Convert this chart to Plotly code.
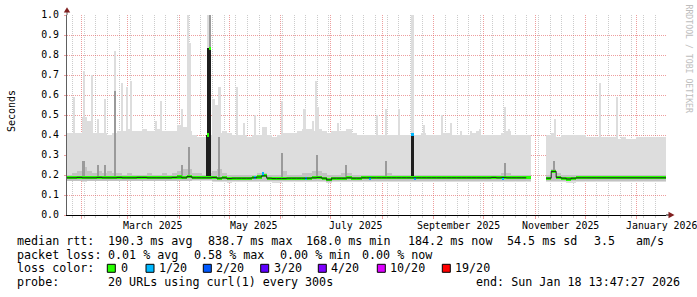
import pandas as pd
import plotly.graph_objects as go

# ---------------- data ----------------
END = pd.Timestamp("2026-01-18 13:47:27")
SPAN_DAYS = 360
STEP_DAYS = 3

# smoke band (3-day bins), seconds
smoke_max = [
    0.41, 0.41, 0.41, 0.49, 0.47, 0.41, 0.41, 0.41, 0.40, 0.41,
    0.42, 0.42, 0.43, 0.42, 0.42, 0.43, 0.42, 0.42, 0.43, 0.42,
    0.42, 0.42, 0.45, 0.44, 0.42, 0.40, 0.39, 0.39, 0.40, 0.41,
    0.41, 0.42, 0.41, 0.40, 0.40, 0.40, 0.39, 0.40, 0.40, 0.44,
    0.40, 0.39, 0.40, 0.41, 0.41, 0.41, 0.42, 0.43, 0.43, 0.42,
    0.43, 0.42, 0.41, 0.42, 0.42, 0.42, 0.43, 0.41, 0.40, 0.40,
    0.40, 0.40, 0.40, 0.40, 0.40, 0.40, 0.40, 0.40, 0.40, 0.40,
    0.40, 0.41, 0.40, 0.40, 0.40, 0.41, 0.41, 0.40, 0.40, 0.40,
    0.40, 0.41, 0.42, 0.40, 0.40, 0.40, 0.40, 0.41, 0.42, 0.40,
    0.40, 0.40, 0.40, None, None, None, 0.40, 0.41, 0.39, 0.40,
    0.40, 0.40, 0.40, 0.40, 0.39, 0.39, 0.39, 0.39, 0.39, 0.39,
    0.38, 0.39, 0.38, 0.38, 0.39, 0.39, 0.39, 0.39, 0.39, 0.39,
]
smoke_min = [
    0.168, 0.168, 0.168, 0.166, 0.168, 0.168, 0.168, 0.168, 0.168, 0.168,
    0.168, 0.168, 0.168, 0.168, 0.168, 0.168, 0.168, 0.168, 0.168, 0.168,
    0.168, 0.168, 0.168, 0.168, 0.168, 0.172, 0.172, 0.172, 0.172, 0.164,
    0.164, 0.164, 0.162, 0.164, 0.164, 0.164, 0.164, 0.164, 0.164, 0.163,
    0.163, 0.160, 0.160, 0.163, 0.163, 0.163, 0.163, 0.163, 0.165, 0.165,
    0.165, 0.165, 0.158, 0.165, 0.165, 0.165, 0.166, 0.166, 0.166, 0.166,
    0.166, 0.166, 0.166, 0.166, 0.166, 0.166, 0.166, 0.166, 0.166, 0.166,
    0.166, 0.166, 0.166, 0.166, 0.166, 0.166, 0.166, 0.166, 0.166, 0.166,
    0.166, 0.166, 0.166, 0.166, 0.166, 0.166, 0.166, 0.166, 0.166, 0.166,
    0.166, 0.166, 0.166, None, None, None, 0.165, 0.165, 0.165, 0.165,
    0.160, 0.162, 0.165, 0.165, 0.165, 0.165, 0.165, 0.165, 0.165, 0.165,
    0.165, 0.165, 0.165, 0.165, 0.165, 0.165, 0.165, 0.165, 0.165, 0.165,
]
smoke_mid_hi = [
    0.20, 0.21, 0.22, 0.24, 0.22, 0.21, 0.22, 0.21, 0.22, 0.21,
    0.21, 0.20, 0.21, 0.20, 0.20, 0.20, 0.21, 0.20, 0.20, 0.21,
    0.20, 0.21, 0.22, 0.23, 0.23, 0.21, 0.21, 0.20, 0.21, 0.22,
    0.23, 0.21, 0.20, 0.20, 0.20, 0.20, 0.20, 0.20, 0.21, 0.21,
    0.20, 0.20, 0.20, 0.22, 0.20, 0.20, 0.20, 0.21, 0.21, 0.22,
    0.22, 0.21, 0.20, 0.20, 0.20, 0.21, 0.21, 0.20, 0.20, 0.20,
    0.20, 0.20, 0.20, 0.20, 0.21, 0.20, 0.20, 0.20, 0.20, 0.20,
    0.20, 0.20, 0.20, 0.20, 0.20, 0.20, 0.20, 0.20, 0.20, 0.20,
    0.20, 0.20, 0.20, 0.20, 0.20, 0.20, 0.20, 0.21, 0.21, 0.20,
    0.20, 0.20, 0.20, None, None, None, 0.20, 0.23, 0.21, 0.20,
    0.20, 0.20, 0.20, 0.20, 0.20, 0.20, 0.20, 0.20, 0.20, 0.20,
    0.20, 0.20, 0.20, 0.20, 0.20, 0.20, 0.20, 0.20, 0.20, 0.20,
]
smoke_mid_lo = [
    0.172, 0.172, 0.172, 0.172, 0.172, 0.172, 0.172, 0.172, 0.172, 0.172,
    0.172, 0.172, 0.172, 0.172, 0.172, 0.172, 0.172, 0.172, 0.172, 0.172,
    0.172, 0.172, 0.172, 0.172, 0.172, 0.174, 0.174, 0.174, 0.174, 0.170,
    0.170, 0.170, 0.170, 0.170, 0.170, 0.170, 0.170, 0.170, 0.170, 0.170,
    0.170, 0.168, 0.168, 0.170, 0.170, 0.170, 0.170, 0.170, 0.170, 0.170,
    0.170, 0.170, 0.165, 0.170, 0.170, 0.170, 0.172, 0.172, 0.172, 0.172,
    0.172, 0.172, 0.172, 0.172, 0.172, 0.172, 0.172, 0.172, 0.172, 0.172,
    0.172, 0.172, 0.172, 0.172, 0.172, 0.172, 0.172, 0.172, 0.172, 0.172,
    0.172, 0.172, 0.172, 0.172, 0.172, 0.172, 0.172, 0.172, 0.172, 0.172,
    0.172, 0.172, 0.172, None, None, None, 0.172, 0.172, 0.172, 0.172,
    0.168, 0.170, 0.172, 0.172, 0.172, 0.172, 0.172, 0.172, 0.172, 0.172,
    0.172, 0.172, 0.172, 0.172, 0.172, 0.172, 0.172, 0.172, 0.172, 0.172,
]
median_rtt = [
    0.186, 0.186, 0.188, 0.186, 0.186, 0.186, 0.188, 0.186, 0.186, 0.186,
    0.188, 0.186, 0.186, 0.186, 0.188, 0.188, 0.186, 0.186, 0.186, 0.186,
    0.186, 0.188, 0.190, 0.186, 0.192, 0.186, 0.186, 0.186, 0.186, 0.188,
    0.184, 0.186, 0.182, 0.184, 0.184, 0.184, 0.184, 0.186, 0.190, 0.196,
    0.184, 0.182, 0.182, 0.182, 0.184, 0.184, 0.184, 0.184, 0.184, 0.186,
    0.188, 0.184, 0.176, 0.184, 0.184, 0.184, 0.186, 0.184, 0.184, 0.186,
    0.186, 0.186, 0.186, 0.186, 0.186, 0.186, 0.186, 0.186, 0.186, 0.186,
    0.186, 0.186, 0.186, 0.186, 0.186, 0.186, 0.186, 0.186, 0.186, 0.186,
    0.186, 0.186, 0.186, 0.186, 0.186, 0.188, 0.186, 0.188, 0.186, 0.186,
    0.186, 0.186, 0.186, None, None, None, 0.184, 0.218, 0.188, 0.184,
    0.180, 0.184, 0.186, 0.186, 0.186, 0.186, 0.186, 0.186, 0.186, 0.186,
    0.186, 0.186, 0.186, 0.186, 0.186, 0.186, 0.186, 0.186, 0.186, 0.186,
]

# narrow outliers of the smoke (max of the 20 probes)
spike_dates = [
    "2025-01-27 23:00", "2025-02-02 23:00", "2025-02-07 10:00", "2025-02-11 00:00",
    "2025-02-15 14:00", "2025-02-21 13:00", "2025-02-25 19:00", "2025-02-28 19:00",
    "2025-03-02 20:00", "2025-03-18 06:00", "2025-03-21 02:00", "2025-04-02 16:00",
    "2025-04-06 04:00", "2025-04-07 16:00", "2025-04-18 06:00", "2025-04-21 15:00",
    "2025-04-23 10:00", "2025-04-25 05:00", "2025-05-05 18:00", "2025-05-09 18:00",
    "2025-05-16 18:00", "2025-06-01 23:00", "2025-06-15 07:00", "2025-06-20 14:00",
    "2025-06-22 05:00", "2025-06-23 14:00", "2025-07-05 05:00", "2025-07-28 17:00",
    "2025-08-03 02:00", "2025-08-11 07:00", "2025-08-19 05:00", "2025-08-26 03:00",
    "2025-09-05 19:00", "2025-09-11 05:00", "2025-09-17 14:00", "2025-09-23 05:00",
    "2025-09-28 19:00", "2025-10-13 14:00", "2025-10-16 10:00", "2025-11-12 17:00",
    "2025-12-09 17:00", "2025-12-20 07:00",
]
spike_tops = [
    0.59, 0.72, 0.70, 0.48, 0.58, 0.82, 0.66, 0.64, 0.67, 0.47, 0.57, 0.53,
    1.00, 0.86, 1.00, 0.58, 0.55, 0.64, 0.64, 0.46, 0.50, 0.57, 0.53, 0.47,
    0.67, 0.54, 0.46, 0.50, 0.53, 0.53, 1.00, 0.45, 0.50, 0.46, 0.42, 0.42,
    0.43, 0.54, 0.43, 0.48, 0.66, 0.59,
]

# inner (darker) smoke outliers
grey_dates = [
    "2025-02-02 12:00", "2025-02-11 00:00", "2025-02-15 12:00", "2025-02-21 13:00",
    "2025-04-02 16:00", "2025-04-06 16:00", "2025-04-19 10:00", "2025-04-25 00:00",
    "2025-06-01 23:00", "2025-06-22 18:00", "2025-07-10 00:00", "2025-08-03 02:00",
    "2025-10-13 14:00", "2025-11-12 06:00",
]
grey_base = [0.19, 0.19, 0.19, 0.19, 0.19, 0.19, 0.834, 0.19, 0.19, 0.19, 0.19, 0.19, 0.19, 0.22]
grey_top = [0.27, 0.25, 0.25, 0.62, 0.25, 0.34, 1.00, 0.39, 0.31, 0.30, 0.25, 0.27, 0.26, 0.27]

# median jumps (vertical black median segments)
jump_dates = ["2025-04-17 16:00", "2025-04-18 14:00", "2025-04-19 12:00", "2025-08-19 05:00"]
jump_base = [0.186, 0.186, 0.186, 0.184]
jump_top = [0.40, 0.834, 0.834, 0.403]

# single-step median samples with their loss count (of 20)
event_dates = [
    "2025-04-18 03:00", "2025-04-19 11:00", "2025-05-16 10:00", "2025-05-21 04:00",
    "2025-06-16 05:00", "2025-07-24 17:00", "2025-08-19 05:00", "2025-08-20 13:00",
    "2025-10-12 19:00",
]
event_rtt = [0.40, 0.834, 0.186, 0.205, 0.184, 0.184, 0.403, 0.184, 0.184]
event_loss = [0, 0, 1, 1, 1, 1, 1, 1, 1]

loss_levels = [0, 1, 2, 3, 4, 10, 19]
loss_labels = ["0", "1/20", "2/20", "3/20", "4/20", "10/20", "19/20"]
loss_colors = ["#26ff00", "#00b8ff", "#0059ff", "#5e00ff", "#7e00ff", "#dd00ff", "#ff0000"]

month_label_dates = ["2025-03-16", "2025-05-16", "2025-07-16", "2025-09-16", "2025-11-16", "2026-01-16"]
month_labels = ["March 2025", "May 2025", "July 2025", "September 2025", "November 2025", "January 2026"]

rtt_stats = ["190.3 ms avg", "838.7 ms max", "168.0 ms min", "184.2 ms now", "54.5 ms sd", "3.5", "am/s"]
loss_stats = ["0.01 % avg", "0.58 % max", "0.00 % min", "0.00 % now"]
probe_text = "20 URLs using curl(1) every 300s"
end_text = "end: Sun Jan 18 13:47:27 2026"

# ---------------- figure ----------------
START = END - pd.Timedelta(days=SPAN_DAYS)
DAY_MS = 86400000
n = len(smoke_max)
bin_centers = [START + pd.Timedelta(days=STEP_DAYS * (i + 0.5)) for i in range(n)]
bin_starts = [START + pd.Timedelta(days=STEP_DAYS * i) for i in range(n)] + [END]
BW = STEP_DAYS * DAY_MS * 1.03
NW = 1.3 * DAY_MS

MONO = "DejaVu Sans Mono"
LIGHT = "#DDDDDD"
MIDG = "#C2C2C2"
GREYS = "#9A9A9A"
DARK = "#1E1E1E"
MGRID = "rgba(222,79,79,0.55)"
GRID = "rgba(143,143,143,0.45)"
ARROW = "#801F1F"

def diff(hi, lo):
    return [None if (h is None or l is None) else h - l for h, l in zip(hi, lo)]

fig = go.Figure()
common = dict(hoverinfo="skip", showlegend=False)

fig.add_trace(go.Bar(x=bin_centers, y=diff(smoke_max, smoke_min), base=smoke_min, width=BW,
                     marker=dict(color=LIGHT, line=dict(width=0)), **common))
fig.add_trace(go.Bar(x=spike_dates, y=[t - 0.3 for t in spike_tops], base=[0.3] * len(spike_tops), width=NW,
                     marker=dict(color=LIGHT, line=dict(width=0)), **common))
fig.add_trace(go.Bar(x=bin_centers, y=diff(smoke_mid_hi, smoke_mid_lo), base=smoke_mid_lo, width=BW,
                     marker=dict(color=MIDG, line=dict(width=0)), **common))
fig.add_trace(go.Bar(x=grey_dates, y=diff(grey_top, grey_base), base=grey_base, width=NW,
                     marker=dict(color=GREYS, line=dict(width=0)), **common))
fig.add_trace(go.Bar(x=jump_dates, y=diff(jump_top, jump_base), base=jump_base, width=NW,
                     marker=dict(color=DARK, line=dict(width=0)), **common))
# black median line
fig.add_trace(go.Scatter(x=bin_starts, y=median_rtt + [median_rtt[-1]], mode="lines",
                         line=dict(color="#202020", width=1, shape="hv"), connectgaps=False, **common))
# coloured median (loss colour)
cmap = dict(zip(loss_levels, loss_colors))
HALF = 0.008
fig.add_trace(go.Bar(x=bin_centers, y=[None if m is None else 2 * HALF for m in median_rtt],
                     base=[None if m is None else m - HALF for m in median_rtt], width=BW,
                     marker=dict(color=cmap[0], line=dict(width=0)), **common))
fig.add_trace(go.Bar(x=event_dates, y=[2 * HALF] * len(event_rtt), base=[r - HALF for r in event_rtt], width=NW,
                     marker=dict(color=[cmap[l] for l in event_loss], line=dict(width=0)), **common))

W, H = 697, 297
L, R, T, B = 67, 31, 15, 82
PW, PH = W - L - R, H - T - B

def px(x):
    return (x - L) / PW

def py(y):
    return (T + PH - y) / PH

fig.update_layout(
    width=W, height=H, margin=dict(l=L, r=R, t=T, b=B, autoexpand=False),
    paper_bgcolor="white", plot_bgcolor="white", barmode="overlay", bargap=0,
    showlegend=False, hovermode=False,
    xaxis=dict(type="date", range=[START, END], showgrid=True, gridcolor=MGRID, griddash="1px,1px",
               gridwidth=1, tick0="2025-02-01", dtick="M1", ticks="outside", ticklen=3, tickcolor=MGRID,
               showticklabels=False, showline=True, linecolor="#000000", linewidth=1, zeroline=False,
               minor=dict(dtick=7 * DAY_MS, tick0="2025-01-27", showgrid=True, gridcolor=GRID,
                          griddash="1px,1px", ticks="outside", ticklen=2, tickcolor=GRID)),
    yaxis=dict(range=[0, 1.0], tickmode="linear", tick0=0, dtick=0.1, tickformat=".1f", showgrid=True,
               gridcolor=MGRID, griddash="1px,1px", zeroline=False, showline=True, linecolor="#606060",
               ticks="outside", ticklen=2, tickcolor=MGRID, ticklabelstandoff=3,
               tickfont=dict(family=MONO, size=9.9, color="#000000")),
)

shapes = []
# axis extensions and arrows
shapes.append(dict(type="line", xref="paper", yref="paper", x0=0, x1=0, y0=1, y1=py(10),
                   line=dict(color="#606060", width=1)))
shapes.append(dict(type="path", xref="paper", yref="paper", fillcolor=ARROW, line=dict(width=0),
                   path=f"M {px(63.8)},{py(12.5)} L {px(70.2)},{py(12.5)} L {px(67)},{py(7.2)} Z"))
shapes.append(dict(type="line", xref="paper", yref="paper", x0=1, x1=px(669), y0=0, y1=0,
                   line=dict(color="#000000", width=1)))
shapes.append(dict(type="path", xref="paper", yref="paper", fillcolor=ARROW, line=dict(width=0),
                   path=f"M {px(668.5)},{py(211.8)} L {px(668.5)},{py(218.2)} L {px(674.5)},{py(215)} Z"))

ann = []
TF = dict(family=MONO, size=9.9, color="#000000")
for d, t in zip(month_label_dates, month_labels):
    ann.append(dict(x=d, y=py(225.5), xref="x", yref="paper", text=t, showarrow=False,
                    xanchor="center", yanchor="middle", font=TF, borderpad=0))
ann.append(dict(x=px(11), y=py(111), xref="paper", yref="paper", text="Seconds", textangle=-90,
                xanchor="center", yanchor="middle",
                showarrow=False, font=dict(family=MONO, size=10, color="#000000"), borderpad=0))
ann.append(dict(x=px(688.5), y=py(59), xref="paper", yref="paper", text="RRDTOOL / TOBI OETIKER",
                textangle=90, xanchor="center", yanchor="middle",
                showarrow=False, font=dict(family=MONO, size=8.2, color="#BDBDBD"), borderpad=0))

LF = dict(family=MONO, size=11.7, color="#000000")

def txt(x, y, t, anchor="left"):
    ann.append(dict(x=px(x), y=py(y), xref="paper", yref="paper", text=t, showarrow=False,
                    xanchor=anchor, yanchor="middle", font=LF, borderpad=0))

Y1, Y2, Y3, Y4 = 240.5, 254.5, 268.3, 282.0
txt(15.5, Y1, "median rtt:")
for x, t in zip([106.6, 206.6, 305.3, 406.6, 506.0, 593.3, 635.3], rtt_stats):
    txt(x, Y1, t)
txt(15.5, Y2, "packet loss:")
for x, t in zip([106.6, 193.3, 278.6, 361.0], loss_stats):
    txt(x, Y2, t)
txt(15.5, Y3, "loss color:")
box_x = [107.3, 146.0, 203.3, 260.7, 318.3, 377.3, 442.3]
lab_x = [120.0, 158.0, 215.3, 272.6, 330.3, 389.3, 454.3]
for bx, lx, lab, col in zip(box_x, lab_x, loss_labels, loss_colors):
    shapes.append(dict(type="rect", xref="paper", yref="paper", x0=px(bx), x1=px(bx + 8),
                       y0=py(Y3 + 4), y1=py(Y3 - 4), fillcolor=col, line=dict(color="#000000", width=1)))
    txt(lx, Y3, lab)
txt(15.5, Y4, "probe:")
txt(106.6, Y4, probe_text)
txt(681, Y4, end_text, anchor="right")

fig.update_layout(shapes=shapes, annotations=ann)
fig.write_html("out.html")
